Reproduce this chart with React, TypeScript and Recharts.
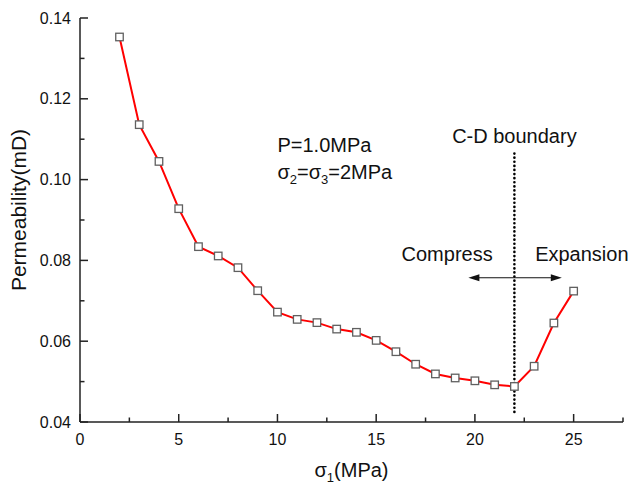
import React from 'react';
import { LineChart, Line, XAxis, YAxis, ReferenceLine, ReferenceDot } from 'recharts';

const sigma1 = [2, 3, 4, 5, 6, 7, 8, 9, 10, 11, 12, 13, 14, 15, 16, 17, 18, 19, 20, 21, 22, 23, 24, 25];
const permeability = [0.1353, 0.1136, 0.1045, 0.0928, 0.0834, 0.0811, 0.0782, 0.0725, 0.0672, 0.0654, 0.0646, 0.0630, 0.0622, 0.0602, 0.0574, 0.0543, 0.0519, 0.0509, 0.0502, 0.0492, 0.0488, 0.0538, 0.0645, 0.0724];
const xTicks = [0, 2.5, 5, 7.5, 10, 12.5, 15, 17.5, 20, 22.5, 25, 27.5];
const yTicks = [0.04, 0.05, 0.06, 0.07, 0.08, 0.09, 0.10, 0.11, 0.12, 0.13, 0.14];
const boundaryX = 22;
const boundaryRange = [0.0425, 0.1065];
const arrowRange = [19.67, 24.4];
const arrowY = 0.0757;

const data = sigma1.map((s, i) => ({ s, k: permeability[i] }));

const FONT = '"Liberation Sans", Arial, sans-serif';
const AXIS = '#222';

const XTick = (p: any) => {
  const v = p.payload.value;
  const major = Math.abs(v % 5) < 1e-6;
  return (
    <g>
      <line x1={p.x} x2={p.x} y1={p.y} y2={p.y - (major ? 8 : 4.5)} stroke={AXIS} strokeWidth={1.5} />
      {major && (
        <text x={p.x} y={p.y + 22.5} textAnchor="middle" fontSize={16} fontFamily={FONT} fill="#111">
          {v}
        </text>
      )}
    </g>
  );
};

const YTick = (p: any) => {
  const v = p.payload.value;
  const major = Math.round(v * 100) % 2 === 0;
  return (
    <g>
      <line x1={p.x} x2={p.x + (major ? 8 : 4.5)} y1={p.y} y2={p.y} stroke={AXIS} strokeWidth={1.5} />
      {major && (
        <text x={p.x - 9} y={p.y} dy="0.35em" textAnchor="end" fontSize={16} fontFamily={FONT} fill="#111">
          {v.toFixed(2)}
        </text>
      )}
    </g>
  );
};

const SquareDot = (p: any) => (
  <rect key={`d${p.index}`} x={p.cx - 3.75} y={p.cy - 3.75} width={7.5} height={7.5} fill="#fff" stroke="#606060" strokeWidth={1.3} />
);

const txt = (content: React.ReactNode, anchor: string = 'start') => (p: any) => (
  <text x={p.cx} y={p.cy} textAnchor={anchor} fontSize={20} fontFamily={FONT} fill="#111">
    {content}
  </text>
);

const ArrowShape = (p: any) => {
  const { x1, y1, x2 } = p;
  const L = 11, H = 3.5;
  return (
    <g>
      <line x1={x1 + 4} y1={y1} x2={x2 - 4} y2={y1} stroke="#111" strokeWidth={1.2} />
      <polygon points={`${x1},${y1} ${x1 + L},${y1 - H} ${x1 + L},${y1 + H}`} fill="#111" />
      <polygon points={`${x2},${y1} ${x2 - L},${y1 - H} ${x2 - L},${y1 + H}`} fill="#111" />
    </g>
  );
};

const YTitle = (p: any) => {
  const vb = p.viewBox;
  const cx = vb.x + 9;
  const cy = 210;
  return (
    <text x={cx} y={cy} transform={`rotate(-90 ${cx} ${cy})`} textAnchor="middle" dy="0.35em" fontSize={21} fontFamily={FONT} fill="#111">
      Permeability(mD)
    </text>
  );
};

const XTitle = (p: any) => {
  const vb = p.viewBox;
  const cx = vb.x + vb.width / 2;
  const y = vb.y + 55;
  return (
    <text x={cx} y={y} textAnchor="middle" fontSize={20} fontFamily={FONT} fill="#111">
      σ<tspan dy={5} fontSize={13}>1</tspan><tspan dy={-5}>(MPa)</tspan>
    </text>
  );
};

export default function App() {
  return (
    <div style={{ position: 'absolute', left: 0, top: 0, background: '#fff' }}>
      <LineChart width={632} height={488} data={data} margin={{ top: 18, right: 9, left: 10, bottom: 36 }}>
        <XAxis
          dataKey="s"
          type="number"
          domain={[0, 27.5]}
          ticks={xTicks}
          interval={0}
          tickLine={false}
          tickSize={0}
          tickMargin={0}
          tick={XTick}
          height={30}
          axisLine={{ stroke: AXIS, strokeWidth: 1.5 }}
          label={XTitle}
        />
        <YAxis
          type="number"
          domain={[0.04, 0.14]}
          ticks={yTicks}
          interval={0}
          tickLine={false}
          tickSize={0}
          tickMargin={0}
          tick={YTick}
          width={70}
          axisLine={{ stroke: AXIS, strokeWidth: 1.5 }}
          label={YTitle}
        />
        <ReferenceLine
          segment={[{ x: boundaryX, y: boundaryRange[0] }, { x: boundaryX, y: boundaryRange[1] }]}
          stroke="#000"
          strokeWidth={2.6}
          strokeDasharray="0.1 4"
          strokeLinecap="round"
          ifOverflow="visible"
        />
        <ReferenceLine
          segment={[{ x: arrowRange[0], y: arrowY }, { x: arrowRange[1], y: arrowY }]}
          shape={ArrowShape}
          ifOverflow="visible"
        />
        <Line
          dataKey="k"
          type="linear"
          stroke="#ff0000"
          strokeWidth={2}
          dot={SquareDot}
          activeDot={false}
          isAnimationActive={false}
        />
        <ReferenceDot x={10} y={0.1068} r={0} ifOverflow="visible" shape={txt('P=1.0MPa')} />
        <ReferenceDot
          x={10}
          y={0.1001}
          r={0}
          ifOverflow="visible"
          shape={txt(
            <>
              σ<tspan dy={5} fontSize={13}>2</tspan>
              <tspan dy={-5}>=σ</tspan>
              <tspan dy={5} fontSize={13}>3</tspan>
              <tspan dy={-5}>=2MPa</tspan>
            </>
          )}
        />
        <ReferenceDot x={22} y={0.1091} r={0} ifOverflow="visible" shape={txt('C-D boundary', 'middle')} />
        <ReferenceDot x={20.9} y={0.0799} r={0} ifOverflow="visible" shape={txt('Compress', 'end')} />
        <ReferenceDot x={23.05} y={0.0799} r={0} ifOverflow="visible" shape={txt('Expansion', 'start')} />
      </LineChart>
    </div>
  );
}
